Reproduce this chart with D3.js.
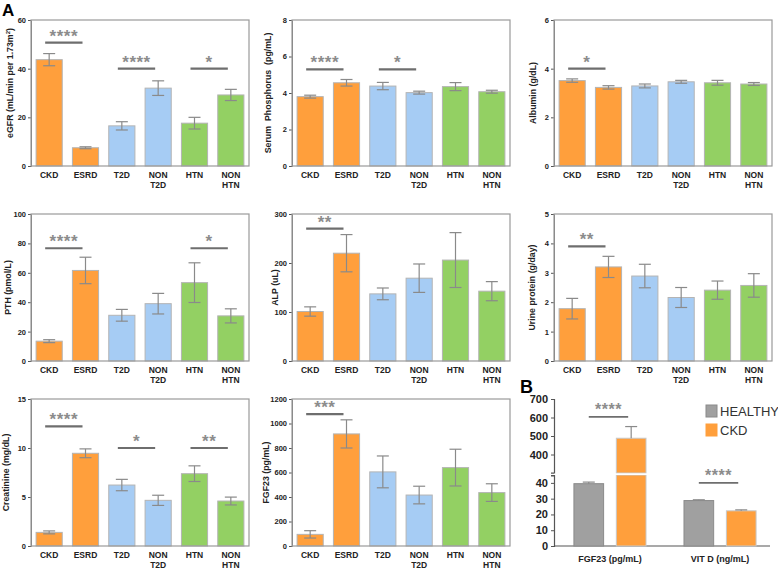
<!DOCTYPE html>
<html>
<head>
<meta charset="utf-8">
<script src="https://cdn.jsdelivr.net/npm/d3@7"></script>
<style>
  body { margin: 0; background: #fff; }
  svg { display: block; font-family: Arial, "Liberation Sans", Helvetica, sans-serif; }
</style>
</head>
<body>
<div id="screen"></div>
<script>
// groups shared by all panels of A
var groups = ["CKD", "ESRD", "T2D", "NON T2D", "HTN", "NON HTN"];
var groupColors = ["#ff9f3c", "#ff9f3c", "#a6ccf4", "#a6ccf4", "#93d063", "#93d063"];

// panel A values (mean, sem)
var egfrMean = [43.7, 7.5, 16.5, 32.0, 17.6, 29.2];
var egfrErr = [2.5, 0.4, 1.7, 3.0, 2.4, 2.3];
var egfrTicks = [0, 20, 40, 60];
var egfrSig = [[0, 1, 50.7, "****"], [2, 3, 40, "****"], [4, 5, 40, "*"]];

var phosMean = [3.80, 4.56, 4.38, 4.02, 4.35, 4.07];
var phosErr = [0.08, 0.18, 0.2, 0.08, 0.22, 0.08];
var phosTicks = [0, 2, 4, 6, 8];
var phosSig = [[0, 1, 5.3, "****"], [2, 3, 5.3, "*"]];

var albMean = [3.51, 3.23, 3.29, 3.46, 3.42, 3.37];
var albErr = [0.07, 0.07, 0.08, 0.06, 0.1, 0.06];
var albTicks = [0, 2, 4, 6];
var albSig = [[0, 1, 4.0, "*"]];

var pthMean = [13.5, 61.6, 31.1, 39.0, 53.3, 30.7];
var pthErr = [1.0, 9.0, 4.0, 7.0, 13.5, 4.8];
var pthTicks = [0, 20, 40, 60, 80, 100];
var pthSig = [[0, 1, 76.7, "****"], [4, 5, 76.7, "*"]];

var alpMean = [101, 220, 137, 169, 206, 142.5];
var alpErr = [9.5, 38, 12, 29, 56, 19.5];
var alpTicks = [0, 100, 200, 300];
var alpSig = [[0, 1, 270, "**"]];

var urineMean = [1.78, 3.2, 2.89, 2.16, 2.41, 2.57];
var urineErr = [0.35, 0.36, 0.4, 0.34, 0.31, 0.4];
var urineTicks = [0, 1, 2, 3, 4, 5];
var urineSig = [[0, 1, 3.9, "**"]];

var creatMean = [1.39, 9.46, 6.22, 4.66, 7.38, 4.59];
var creatErr = [0.15, 0.45, 0.58, 0.52, 0.8, 0.4];
var creatTicks = [0, 5, 10, 15];
var creatSig = [[0, 1, 12.2, "****"], [2, 3, 10, "*"], [4, 5, 10, "**"]];

var fgfMean = [95, 915, 605, 416, 640, 436];
var fgfErr = [30, 115, 130, 72, 150, 72];
var fgfTicks = [0, 200, 400, 600, 800, 1000, 1200];
var fgfSig = [[0, 1, 1076, "***"]];

// panel B
var bGroups = ["FGF23 (pg/mL)", "VIT D (ng/mL)"];
var bSeries = ["HEALTHY", "CKD"];
var bColors = ["#a0a0a0", "#ff9f3c"];
var healthyMean = [39.5, 28.8];
var healthyErr = [1.0, 0.5];
var ckdMean = [488, 22.3];
var ckdErr = [63, 0.6];
var bUpperTicks = [400, 500, 600, 700];
var bLowerTicks = [0, 10, 20, 30, 40];
var bSig = [[0, 603, "****"], [1, 40, "****"]];

var width = 778;
var height = 569;

var svg = d3.select("#screen").append("svg").attr("width", width).attr("height", height);

// panel frames: column left edges, row tops/bottoms
var colX = [31, 292, 554];
var rowTop = [20, 214, 399];
var rowBottom = [166, 361, 546];
var frameW = 218;

var panels = [
  {mean: egfrMean, err: egfrErr, ticks: egfrTicks, sig: egfrSig, label: "eGFR", col: 0, row: 0, lx: 21, ly: -10},
  {mean: phosMean, err: phosErr, ticks: phosTicks, sig: phosSig, label: "Serum  Phosphorus  (pg/mL)", col: 1, row: 0, lx: 24, ly: 0},
  {mean: albMean, err: albErr, ticks: albTicks, sig: albSig, label: "Albumin (g/dL)", col: 2, row: 0, lx: 21, ly: 0},
  {mean: pthMean, err: pthErr, ticks: pthTicks, sig: pthSig, label: "PTH (pmol/L)", col: 0, row: 1, lx: 23, ly: 0},
  {mean: alpMean, err: alpErr, ticks: alpTicks, sig: alpSig, label: "ALP (uL)", col: 1, row: 1, lx: 17, ly: 0},
  {mean: urineMean, err: urineErr, ticks: urineTicks, sig: urineSig, label: "Urine protein (g/day)", col: 2, row: 1, lx: 22, ly: 0},
  {mean: creatMean, err: creatErr, ticks: creatTicks, sig: creatSig, label: "Creatinine (mg/dL)", col: 0, row: 2, lx: 25, ly: 0},
  {mean: fgfMean, err: fgfErr, ticks: fgfTicks, sig: fgfSig, label: "FGF23 (pg/mL)", col: 1, row: 2, lx: 26, ly: 0}
];

var errColor = "#8a8a8a";
var sigColor = "#6e6e6e";
var starColor = "#8c8c8c";

var drawPanel = function (p) {
  var x0 = colX[p.col], top = rowTop[p.row], bottom = rowBottom[p.row];
  var g = svg.append("g");

  var x = d3.scaleBand().domain(groups).range([x0, x0 + frameW]).paddingInner(0.28).paddingOuter(0.14);
  var y = d3.scaleLinear().domain([0, d3.max(p.ticks)]).range([bottom, top]);

  var yAxis = d3.axisLeft(y).tickValues(p.ticks).tickFormat(d3.format("d")).tickSize(3).tickPadding(2);
  var ax = g.append("g").attr("transform", "translate(" + x0 + ",0)").call(yAxis);
  ax.select(".domain").attr("stroke", "#777");
  ax.selectAll(".tick line").attr("stroke", "#555");
  ax.selectAll(".tick text").attr("font-size", 7.5).attr("font-weight", "bold").attr("fill", "#222");

  // bars
  g.selectAll("rect.bar").data(p.mean).enter().append("rect")
    .attr("class", "bar")
    .attr("x", function (d, i) { return x(groups[i]); })
    .attr("y", function (d) { return y(d); })
    .attr("width", x.bandwidth())
    .attr("height", function (d) { return bottom - y(d); })
    .attr("fill", function (d, i) { return groupColors[i]; })
    .attr("stroke", "#b4b4b4")
    .attr("stroke-width", 1);

  // error bars
  var cap = 6;
  p.mean.forEach(function (m, i) {
    var cx = x(groups[i]) + x.bandwidth() / 2;
    var hi = y(m + p.err[i]), lo = y(m - p.err[i]);
    g.append("line").attr("x1", cx).attr("x2", cx).attr("y1", hi).attr("y2", lo)
      .attr("stroke", errColor).attr("stroke-width", 1.2);
    [hi, lo].forEach(function (yy) {
      g.append("line").attr("x1", cx - cap).attr("x2", cx + cap).attr("y1", yy).attr("y2", yy)
        .attr("stroke", errColor).attr("stroke-width", 1.2);
    });
  });

  // significance brackets
  p.sig.forEach(function (s) {
    var xa = x(groups[s[0]]) + x.bandwidth() / 2 - 4;
    var xb = x(groups[s[1]]) + x.bandwidth() / 2 - 3;
    var yy = y(s[2]);
    g.append("line").attr("x1", xa).attr("x2", xb).attr("y1", yy).attr("y2", yy)
      .attr("stroke", sigColor).attr("stroke-width", 2.2);
    g.append("text").attr("x", (xa + xb) / 2).attr("y", yy - 1)
      .attr("text-anchor", "middle").attr("font-size", 17).attr("font-weight", "bold")
      .attr("letter-spacing", 0.5).attr("fill", starColor).text(s[3]);
  });

  // frame
  g.append("rect").attr("x", x0).attr("y", top).attr("width", frameW).attr("height", bottom - top)
    .attr("fill", "none").attr("stroke", "#9a9a9a").attr("stroke-width", 1.2);

  // category labels
  groups.forEach(function (name, i) {
    var cx = x(name) + x.bandwidth() / 2;
    var t = g.append("text").attr("x", cx).attr("y", bottom + 12)
      .attr("text-anchor", "middle").attr("font-size", 8.5).attr("font-weight", "bold").attr("fill", "#222");
    name.split(" ").forEach(function (part, k) {
      t.append("tspan").attr("x", cx).attr("dy", k == 0 ? 0 : 9.5).text(part);
    });
  });

  // y title
  var ly = (top + bottom) / 2 + p.ly;
  var title = g.append("text")
    .attr("transform", "translate(" + (x0 - p.lx) + "," + ly + ") rotate(-90)")
    .attr("text-anchor", "middle").attr("dy", "0.35em")
    .attr("font-size", 8.8).attr("font-weight", "bold").attr("fill", "#222");
  if (p.label == "eGFR") {
    title.append("tspan").text("eGFR (mL/min per 1.73m");
    title.append("tspan").attr("font-size", 6).attr("dy", -3.5).text("2");
    title.append("tspan").attr("dy", 3.5).text(")");
  } else {
    title.style("white-space", "pre").text(p.label);
  }
};

panels.forEach(drawPanel);

// ---- panel B (broken y axis) ----
var bLeft = 554, bRight = 772;
var yUp = d3.scaleLinear().domain([300, 700]).range([473, 399]);
var yLow = d3.scaleLinear().domain([0, 45]).range([546, 475]);
var gx = d3.scaleBand().domain(bGroups).range([555, 775]).paddingInner(0.345).paddingOuter(0.172);
var sx = d3.scaleBand().domain(bSeries).range([0, gx.bandwidth()]).paddingInner(0.3);

var gb = svg.append("g");

var upAxis = d3.axisLeft(yUp).tickValues(bUpperTicks).tickSize(3).tickPadding(3);
var lowAxis = d3.axisLeft(yLow).tickValues(bLowerTicks).tickSize(3).tickPadding(3);
var a1 = gb.append("g").attr("transform", "translate(" + bLeft + ",0)").call(upAxis);
var a2 = gb.append("g").attr("transform", "translate(" + bLeft + ",0)").call(lowAxis);
[a1, a2].forEach(function (a) {
  a.select(".domain").attr("stroke", "#555").attr("stroke-width", 1.2);
  a.selectAll(".tick line").attr("stroke", "#555");
  a.selectAll(".tick text").attr("font-size", 11).attr("font-weight", "bold").attr("fill", "#222");
});
// bottom axis line
gb.append("line").attr("x1", bLeft).attr("x2", bRight - 2).attr("y1", 546).attr("y2", 546)
  .attr("stroke", "#555").attr("stroke-width", 1.2);

var bData = [];
bGroups.forEach(function (grp, i) {
  bData.push({grp: grp, s: 0, mean: healthyMean[i], err: healthyErr[i]});
  bData.push({grp: grp, s: 1, mean: ckdMean[i], err: ckdErr[i]});
});

bData.forEach(function (d) {
  var bx = gx(d.grp) + sx(bSeries[d.s]);
  var bw = sx.bandwidth();
  var col = bColors[d.s];
  var stroke = d.s == 0 ? "#8a8a8a" : "#c8c8c8";
  var topY, hi;
  if (d.mean > 45) {
    // lower segment up to the break, then the upper segment
    gb.append("rect").attr("x", bx).attr("y", yLow(45)).attr("width", bw).attr("height", 546 - yLow(45))
      .attr("fill", col).attr("stroke", stroke);
    gb.append("rect").attr("x", bx).attr("y", yUp(d.mean)).attr("width", bw).attr("height", yUp(300) - yUp(d.mean))
      .attr("fill", col).attr("stroke", stroke);
    topY = yUp(d.mean);
    hi = yUp(d.mean + d.err);
  } else {
    gb.append("rect").attr("x", bx).attr("y", yLow(d.mean)).attr("width", bw).attr("height", 546 - yLow(d.mean))
      .attr("fill", col).attr("stroke", stroke);
    topY = yLow(d.mean);
    hi = yLow(d.mean + d.err);
  }
  var cx = bx + bw / 2;
  gb.append("line").attr("x1", cx).attr("x2", cx).attr("y1", topY).attr("y2", hi)
    .attr("stroke", errColor).attr("stroke-width", 1.2);
  gb.append("line").attr("x1", cx - 6).attr("x2", cx + 6).attr("y1", hi).attr("y2", hi)
    .attr("stroke", errColor).attr("stroke-width", 1.2);
});

// white break across the axis
gb.append("rect").attr("x", bLeft - 4).attr("y", 473.5).attr("width", bRight - bLeft).attr("height", 1.5).attr("fill", "#fff");
gb.append("line").attr("x1", bLeft - 3).attr("x2", bLeft).attr("y1", 473).attr("y2", 473).attr("stroke", "#555");
gb.append("line").attr("x1", bLeft - 3).attr("x2", bLeft).attr("y1", 476).attr("y2", 476).attr("stroke", "#555");

// significance for B
bSig.forEach(function (s) {
  var grp = bGroups[s[0]];
  var xa = gx(grp) + sx("HEALTHY") + sx.bandwidth() / 2;
  var xb = gx(grp) + sx("CKD") + sx.bandwidth() / 2 - 3;
  var yy = s[0] == 0 ? yUp(s[1]) : yLow(s[1]);
  gb.append("line").attr("x1", xa).attr("x2", xb).attr("y1", yy).attr("y2", yy)
    .attr("stroke", sigColor).attr("stroke-width", 1.8);
  gb.append("text").attr("x", (xa + xb) / 2).attr("y", yy - 2)
    .attr("text-anchor", "middle").attr("font-size", 16).attr("font-weight", "bold")
    .attr("letter-spacing", 0.5).attr("fill", starColor).text(s[2]);
});

// B category labels
bGroups.forEach(function (grp) {
  gb.append("text").attr("x", gx(grp) + gx.bandwidth() / 2).attr("y", 562)
    .attr("text-anchor", "middle").attr("font-size", 9).attr("font-weight", "bold").attr("fill", "#222")
    .text(grp);
});

// legend
bSeries.forEach(function (name, i) {
  var ly = 405 + i * 19;
  gb.append("rect").attr("x", 706).attr("y", ly).attr("width", 11).attr("height", 12)
    .attr("fill", bColors[i]).attr("stroke", i == 0 ? "#8a8a8a" : "#ff9f3c");
  gb.append("text").attr("x", 720).attr("y", ly + 11).attr("font-size", 13).attr("fill", "#333").text(name);
});

// panel letters
svg.append("text").attr("x", 2).attr("y", 16).attr("font-size", 17).attr("font-weight", "bold").text("A");
svg.append("text").attr("x", 520).attr("y", 393).attr("font-size", 18).attr("font-weight", "bold").text("B");
</script>
</body>
</html>
